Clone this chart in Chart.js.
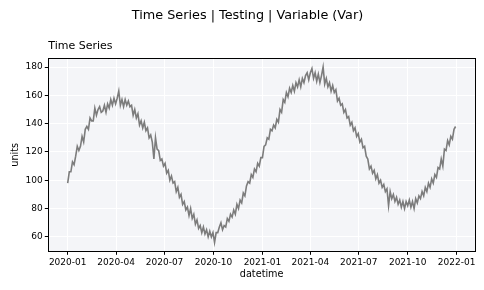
<!DOCTYPE html>
<html>
<head>
<meta charset="utf-8">
<script src="https://cdn.jsdelivr.net/npm/chart.js@4"></script>
<style>
  html, body { margin: 0; padding: 0; background: #fff; }
  #chart { display: block; }
</style>
</head>
<body>
<canvas id="chart" width="484" height="290"></canvas>
<script>
// one reading every 3 days, starting 2020-01-01
const startDate = '2020-01-01';
const stepDays = 3;
const values = [
  98, 106, 106, 113, 111, 117, 124, 121, 124, 131,
  127, 136, 138, 136, 144, 142, 142, 151, 146, 150,
  152, 148, 149, 153, 148, 154, 151, 157, 153, 158,
  154, 158, 163, 153, 157, 152, 157, 153, 156, 152,
  153, 146, 150, 144, 147, 139, 142, 137, 141, 135,
  137, 130, 132, 127, 115, 130, 122, 121, 114, 115,
  110, 112, 105, 107, 100, 103, 98, 99, 92, 95,
  88, 90, 83, 85, 79, 81, 75, 80, 73, 76,
  69, 72, 66, 68, 63, 67, 62, 65, 60, 64,
  60, 63, 56, 63, 63, 67, 70, 65, 68, 67,
  73, 71, 76, 74, 79, 76, 83, 80, 86, 84,
  91, 89, 96, 99, 98, 104, 102, 108, 106, 112,
  110, 116, 116, 124, 125, 130, 129, 136, 135, 139,
  137, 143, 141, 150, 148, 157, 155, 162, 159, 165,
  162, 167, 163, 169, 166, 171, 166, 172, 169, 174,
  176, 171, 176, 179, 172, 176, 170, 175, 169, 174,
  180, 168, 172, 166, 169, 163, 167, 162, 164, 156,
  158, 153, 154, 148, 150, 144, 145, 139, 141, 135,
  137, 131, 133, 127, 129, 123, 124, 117, 115, 108,
  110, 105, 107, 101, 104, 98, 100, 95, 97, 92,
  94, 82, 92, 87, 90, 85, 88, 83, 86, 81,
  85, 80, 85, 82, 86, 81, 85, 80, 87, 84,
  89, 87, 92, 89, 95, 92, 98, 95, 101, 98,
  104, 102, 109, 108, 115, 110, 122, 121, 128, 125,
  131, 129, 136, 138
];
const tickLabels = ['2020-01', '2020-04', '2020-07', '2020-10', '2021-01', '2021-04', '2021-07', '2021-10', '2022-01'];
const yTicks = [60, 80, 100, 120, 140, 160, 180];

const DAY = 86400000;
const t0 = Date.parse(startDate + 'T00:00:00Z');
const dayOf = s => (Date.parse(s + '-01T00:00:00Z') - t0) / DAY;
const tickDays = tickLabels.map(dayOf);
const points = values.map((v, i) => ({ x: i * stepDays, y: v }));

// matplotlib-like 5% margins
const lastDay = (values.length - 1) * stepDays;
const xPad = lastDay * 0.05;
const yMin = Math.min(...values), yMax = Math.max(...values);
const yPad = (yMax - yMin) * 0.05;

const FONT = 'DejaVu Sans';

const plotFrame = {
  id: 'plotFrame',
  beforeDraw(chart) {
    const { ctx, chartArea: a } = chart;
    ctx.save();
    ctx.fillStyle = '#f4f5f8';
    ctx.fillRect(a.left, a.top, a.right - a.left, a.bottom - a.top);
    ctx.restore();
  },
  afterDraw(chart) {
    const { ctx, chartArea: a } = chart;
    ctx.save();
    ctx.strokeStyle = '#000';
    ctx.lineWidth = 1;
    ctx.strokeRect(Math.round(a.left) + 0.5, Math.round(a.top) + 0.5,
      Math.round(a.right - a.left), Math.round(a.bottom - a.top));
    // figure title, centred like the original's suptitle
    ctx.fillStyle = '#000';
    ctx.font = '12.8px "DejaVu Sans"';
    ctx.textAlign = 'center';
    ctx.textBaseline = 'middle';
    ctx.fillText('Time Series | Testing | Variable (Var)', 247.5, 16);
    ctx.restore();
  }
};

new Chart(document.getElementById('chart').getContext('2d'), {
  type: 'line',
  data: {
    datasets: [{
      data: points,
      borderColor: '#7c7c7c',
      borderWidth: 1.6,
      pointRadius: 0,
      tension: 0,
      fill: false
    }]
  },
  options: {
    responsive: false,
    animation: false,
    devicePixelRatio: 1,
    layout: { padding: { left: 0, right: 9, top: 0, bottom: 0 } },
    plugins: {
      legend: { display: false },
      tooltip: { enabled: false },
      title: { display: false },
      subtitle: {
        display: true,
        text: 'Time Series',
        align: 'start',
        fullSize: false,
        color: '#000',
        font: { family: FONT, size: 11, weight: 'normal' },
        padding: { top: 39.4, bottom: 5.7 }
      }
    },
    scales: {
      x: {
        type: 'linear',
        min: -xPad,
        max: lastDay + xPad,
        afterBuildTicks: s => { s.ticks = tickDays.map(v => ({ value: v })); },
        afterFit: s => { s.height = 38.7; },
        grid: { color: '#ffffff', tickColor: '#000', tickLength: 3.5, drawTicks: true },
        border: { display: true, color: '#000' },
        ticks: {
          callback: (v, i) => tickLabels[i],
          color: '#000',
          font: { family: FONT, size: 9 },
          padding: 2,
          maxRotation: 0,
          autoSkip: false
        },
        title: {
          display: true,
          text: 'datetime',
          color: '#000',
          font: { family: FONT, size: 9.7 },
          padding: { top: 0, bottom: 10.2 }
        }
      },
      y: {
        min: yMin - yPad,
        max: yMax + yPad,
        afterBuildTicks: s => { s.ticks = yTicks.map(v => ({ value: v })); },
        afterFit: s => { s.width = 48.3; },
        grid: { color: '#ffffff', tickColor: '#000', tickLength: 3.5, drawTicks: true },
        border: { display: true, color: '#000' },
        ticks: {
          color: '#000',
          font: { family: FONT, size: 9 },
          padding: 2
        },
        title: {
          display: true,
          text: 'units',
          color: '#000',
          font: { family: FONT, size: 9.7 },
          padding: { top: 9.2, bottom: 0 }
        }
      }
    }
  },
  plugins: [plotFrame]
});
</script>
</body>
</html>
